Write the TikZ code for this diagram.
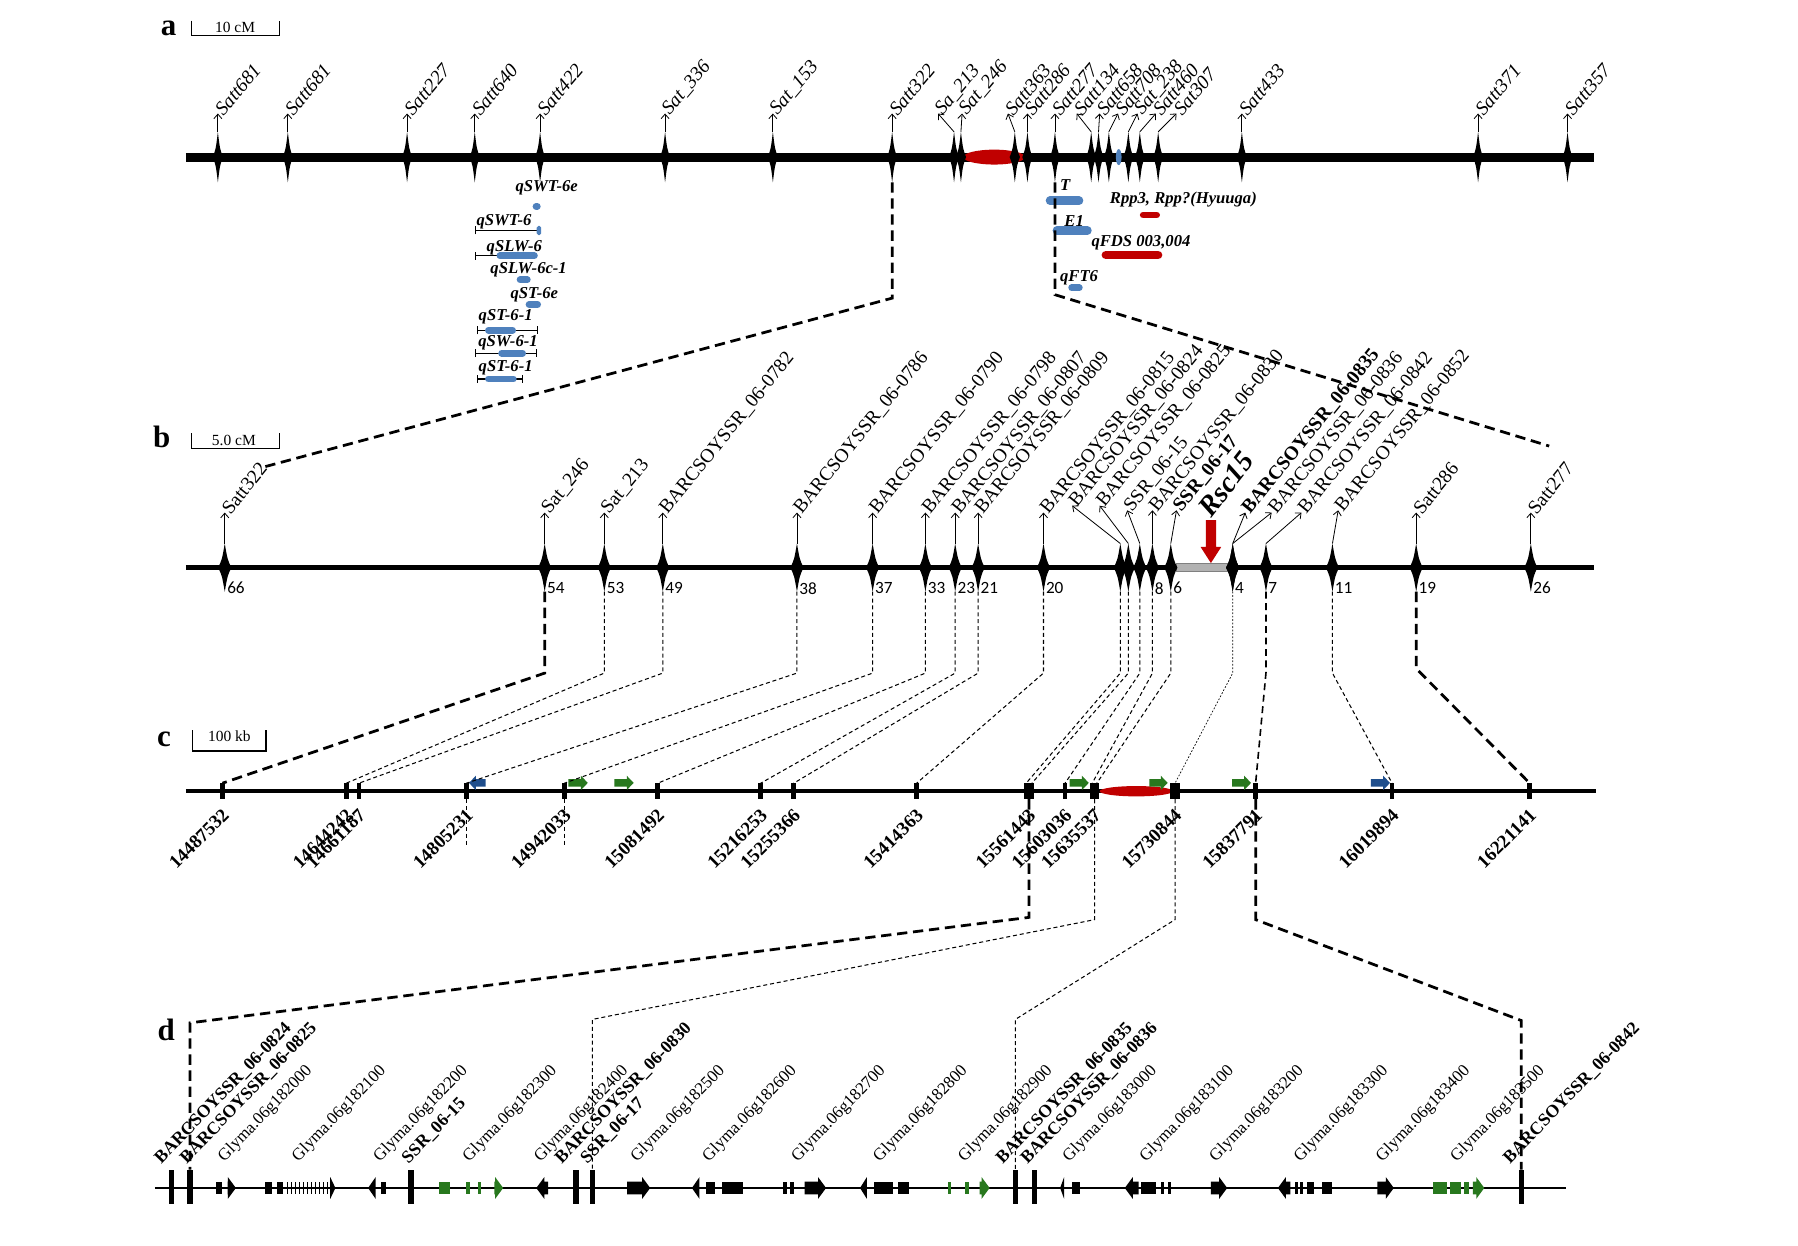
\documentclass[tikz,border=0pt]{standalone}
\usepackage{fontspec}
\setmainfont{Liberation Serif}
\newfontfamily\numfont{Carlito}
\usetikzlibrary{arrows.meta}
\definecolor{qblue}{RGB}{79,129,189}
\definecolor{qred}{RGB}{192,0,0}
\definecolor{ggreen}{RGB}{40,120,30}
\definecolor{gblue}{RGB}{31,78,140}

\begin{document}
\begin{tikzpicture}[x=1pt,y=-1pt]
  \tikzset{
    panel/.style={inner sep=0pt, font=\fontsize{27}{27}\selectfont\bfseries},
    barlbl/.style={inner sep=0pt, font=\fontsize{13.5}{13.5}\selectfont},
    albl/.style={anchor=west, rotate=50, inner sep=1pt, font=\fontsize{17}{17}\selectfont\itshape},
    blbl/.style={anchor=west, rotate=51, inner sep=1pt, font=\fontsize{17}{17}\selectfont},
    bnum/.style={anchor=west, inner sep=0pt, font=\numfont\fontsize{15}{15}\selectfont},
    clbl/.style={anchor=east, rotate=45, inner sep=0pt, font=\fontsize{16.5}{16.5}\selectfont\bfseries},
    dlbl/.style={anchor=south west, rotate=46, inner sep=0pt, font=\fontsize{14.8}{14.8}\selectfont},
    dmk/.style={dlbl, font=\fontsize{15.5}{15.5}\selectfont\bfseries},
    qlbl/.style={inner sep=0pt, font=\fontsize{14.5}{14.5}\selectfont\bfseries\itshape},
    mk/.style={-{Straight Barb[length=4pt,width=7pt]}, line width=0.7pt},
    qbar/.style={line width=6pt, line cap=round},
    ival/.style={line width=1pt, {Bar[width=7pt]}-{Bar[width=7pt]}},
    thickdash/.style={line width=2.4pt, dash pattern=on 9pt off 5pt},
    middash/.style={line width=1.4pt, dash pattern=on 6pt off 4pt},
    thindash/.style={line width=0.9pt, dash pattern=on 3.5pt off 2.5pt},
    dotdash/.style={line width=0.6pt, dash pattern=on 1.5pt off 1.5pt},
    spa/.pic={\fill (0,-22) .. controls (1.8,-7) .. (4.5,0) .. controls (1.8,7) .. (0,22) .. controls (-1.8,7) .. (-4.5,0) .. controls (-1.8,-7) .. cycle;},
    spb/.pic={\fill (0,-21) .. controls (2.4,-7) .. (5.8,0) .. controls (2.4,7) .. (0,21) .. controls (-2.4,7) .. (-5.8,0) .. controls (-2.4,-7) .. cycle;}
  }
  \useasboundingbox (0,0) rectangle (1568,1086);

  % panel a
  \node[panel] (pa) at (147,25) {a};
  \draw[line width=1.2pt] (167,18) -- (167,31) -- (244,31) -- (244,18);
  \node[barlbl] (sa) at (205,24) {10 cM};
  \draw[line width=8pt] (162,137) -- (1390,137);
  \fill[qred] (867,137) ellipse (27 and 6.5);
  \fill[qblue] (975.6,137) ellipse (2.5 and 7);
  \foreach \x/\t/\n [count=\i] in {190/190/Satt681, 251/251/Satt681, 355/355/Satt227,
      414/414/Satt640, 471/471/Satt422, 580/580/Sat\_336, 674/674/Sat\_153, 778/778/Satt322,
      832/818/Sa\_213, 838/839/Sat\_246, 885/879/Satt363, 896/896/Satt286, 920/920/Satt277,
      951.6/939/Satt134, 958/959/Satt658, 967/975/Satt708, 984/992/Sat\_238, 994/1008/Satt460,
      1010/1026/Sat307, 1083/1083/Satt433, 1289/1289/Satt371, 1367/1367/Satt357} {
    \coordinate (a\i) at (\x,137);
    \pic at (a\i) {spa};
    \node[albl] (al\i) at (\t,99) {\n};
    \draw[mk] ([yshift=22pt]a\i) -- (al\i.west);
  }

  % QTL on panel a
  \node[qlbl] (q1) at (476.7,164) {qSWT-6e};
  \draw[qbar, qblue] (467.5,180) -- (468.5,180);
  \node[qlbl] (q2) at (439.5,193) {qSWT-6};
  \draw[line width=1pt, {Bar[width=7pt]}-] (414,201) -- (469,201);
  \fill[qblue, rounded corners=1.5pt] (468,197) rectangle (472,205);
  \node[qlbl] (q3) at (448.5,216) {qSLW-6};
  \draw[line width=1pt, {Bar[width=7pt]}-] (414,223) -- (434,223);
  \draw[qbar, qblue] (436,223) -- (466,223);
  \node[qlbl] (q4) at (461,235.5) {qSLW-6c-1};
  \draw[qbar, qblue] (453.6,244) -- (459.8,244);
  \node[qlbl] (q5) at (466,257) {qST-6e};
  \draw[qbar, qblue] (461.4,265.5) -- (468.8,265.5);
  \node[qlbl] (q6) at (441,276) {qST-6-1};
  \draw[ival] (415.7,288) -- (469,288);
  \draw[qbar, qblue] (426,288) -- (447,288);
  \node[qlbl] (q7) at (443,299) {qSW-6-1};
  \draw[ival] (414,308) -- (468,308);
  \draw[qbar, qblue] (437.5,308) -- (455.7,308);
  \node[qlbl] (q8) at (441,321) {qST-6-1};
  \draw[ival] (415.7,330.5) -- (455.8,330.5);
  \draw[qbar, qblue] (426,330.5) -- (447.6,330.5);

  \node[qlbl] (q9) at (929,161.3) {T};
  \draw[qbar, qblue, line width=7.5pt] (915.7,175) -- (941,175);
  \node[qlbl] (q10) at (1032,174.4) {Rpp3, Rpp?(Hyuuga)};
  \draw[qbar, qred] (997,187.5) -- (1008.6,187.5);
  \node[qlbl] (q11) at (936.7,193) {E1};
  \draw[qbar, qblue, line width=7.5pt] (921.7,201) -- (948.3,201);
  \node[qlbl] (q12) at (995,212) {qFDS 003,004};
  \draw[qbar, qred, line width=7.5pt] (964.4,222.4) -- (1009.9,222.4);
  \node[qlbl] (q13) at (941,242.6) {qFT6};
  \draw[qbar, qblue] (934.6,251) -- (941.2,251);

  % a to b
  \coordinate (abL) at (231,407);
  \coordinate (abR) at (1351,389);
  \draw[thickdash] ([yshift=-22pt]a8) -- ([yshift=-123pt]a8) -- (abL);
  \draw[thickdash] ([yshift=-22pt]a13) -- ([yshift=-120pt]a13) -- (abR);

  % panel b
  \node[panel] (pb) at (141,381) {b};
  \draw[line width=1.2pt] (167,378) -- (167,391) -- (244,391) -- (244,378);
  \node[barlbl] (sb) at (204,384) {5.0 cM};
  \draw[line width=5pt] (162,495) -- (1390,495);
  \draw[fill=black!30, draw=black!50, line width=0.5pt] (1025.6,491.5) rectangle (1072,498.5);
  \foreach \x/\t/\h/\n [count=\i] in {196/196/447/Satt322, 475/475/447/Sat\_246,
      527/527/447/Sat\_213, 578/578/447/BARCSOYSSR\_06-0782, 695/695/447/BARCSOYSSR\_06-0786,
      761/761/447/BARCSOYSSR\_06-0790, 807/807/447/BARCSOYSSR\_06-0798,
      833/833/447/BARCSOYSSR\_06-0807, 853/853/447/BARCSOYSSR\_06-0809,
      910/910/447/BARCSOYSSR\_06-0815, 977/935/441/BARCSOYSSR\_06-0824,
      984/959/441/BARCSOYSSR\_06-0825, 994/983/445/SSR\_06-15,
      1005/1005/445/BARCSOYSSR\_06-0830, 1021/1026/445/\textbf{SSR\_06-17},
      1075/1086/447/\textbf{BARCSOYSSR\_06-0835}, 1075/1109/447/BARCSOYSSR\_06-0836,
      1104/1135/447/BARCSOYSSR\_06-0842, 1162/1167/445/BARCSOYSSR\_06-0852,
      1235/1235/447/Satt286, 1335/1335/447/Satt277} {
    \coordinate (b\i) at (\x,495);
    \pic at (b\i) {spb};
    \node[blbl] (bl\i) at (\t,\h) {\n};
    \draw[mk] ([yshift=21pt]b\i) -- (bl\i.west);
  }
  \foreach \i/\m in {1/66, 2/54, 3/53, 4/49, 5/38, 6/37, 7/33, 8/23, 9/21, 10/20,
      14/8, 15/6, 16/4, 18/7, 19/11, 20/19, 21/26}
    \node[bnum] (bn\i) at ([xshift=2pt,yshift=-18pt]b\i) {\m};
  \fill[qred] (1051.5,453.5) -- (1060.5,453.5) -- (1060.5,477) -- (1065,477) -- (1056,491)
    -- (1047,477) -- (1051.5,477) -- cycle;
  \node[anchor=west, rotate=52, inner sep=0pt, font=\fontsize{25}{25}\selectfont\bfseries\itshape]
    (rsc) at (1050,447) {Rsc15};

  % panel c
  \node[panel] (pc) at (143,645) {c};
  \draw[line width=1.2pt] (168,637) -- (168,655) -- (232,655) -- (232,637);
  \node[barlbl] (sc) at (200,642) {100 kb};
  \draw[line width=3pt] (162,690) -- (1392,690);
  \fill[qred] (991,690) ellipse (32 and 4.5);
  \foreach \x/\w/\n [count=\i] in {194/4/14487532, 302/4/14644242, 313/4/14661187,
      406.7/4/14805231, 492.2/4/14942033, 573.6/4/15081492, 663.4/4/15216253,
      692.2/4/15255366, 799.4/4/15414363, 897.4/8/15561443, 928.8/4/15603036,
      954.5/8/15635537, 1024.7/8/15730844, 1095/4/15837791, 1214/4/16019894,
      1334/4/16221141} {
    \coordinate (c\i) at (\x,690);
    \fill (\x-\w/2,683) rectangle (\x+\w/2,697);
    \node[clbl] (cl\i) at (\x+3,708) {\n};
  }
  \foreach \a/\b/\c in {495.7/512.6/ggreen, 535.7/552.6/ggreen, 932.8/949.5/ggreen,
      1002.4/1018.3/ggreen, 1074.4/1091/ggreen, 1195.4/1212.2/gblue}
    \fill[\c] (\a,679.5) -- (\b-6,679.5) -- (\b-6,676.5) -- (\b,682.75) -- (\b-6,689)
      -- (\b-6,686) -- (\a,686) -- cycle;
  \fill[gblue] (423.6,679.5) -- (415,679.5) -- (415,676.5) -- (409,682.75) -- (415,689)
    -- (415,686) -- (423.6,686) -- cycle;

  % b to c
  \foreach \p/\q/\s in {3/2/0, 4/3/0, 5/4/0, 6/5/0, 7/6/0, 8/7/0, 9/8/0, 10/9/0,
      11/10/-2.5, 12/10/2.5, 13/11/0, 14/12/-2, 15/12/2, 19/15/0}
    \draw[thindash] ([yshift=-21pt]b\p) -- ([yshift=-92pt]b\p) -- ([xshift=\s pt,yshift=7pt]c\q);
  \draw[thickdash] ([yshift=-21pt]b2) -- ([yshift=-92pt]b2) -- ([yshift=7pt]c1);
  \draw[thickdash] ([yshift=-21pt]b20) -- ([yshift=-88pt]b20) -- ([yshift=7pt]c16);
  \draw[dotdash] ([yshift=-21pt]b16) -- ([yshift=-92pt]b16) -- ([yshift=7pt]c13);
  \draw[middash] ([yshift=-21pt]b18) -- ([yshift=-92pt]b18) -- ([yshift=7pt]c14);
  \draw[thindash] ([yshift=-7pt]c4) -- ([yshift=-48pt]c4);
  \draw[thindash] ([yshift=-7pt]c5) -- ([yshift=-48pt]c5);

  % panel d
  \node[panel] (pd) at (145,898) {d};
  \draw[line width=2pt] (135,1036) -- (1366,1036);
  \foreach \x [count=\i] in {149.6,165.7,358.4,502.3,516.6,885.5,901.9,1326.7} {
    \coordinate (d\i) at (\x,1036);
    \fill (\x-2.3,1020) rectangle (\x+2.3,1050);
  }
  \foreach \x/\n [count=\i] in {144.3/BARCSOYSSR\_06-0824, 166.6/BARCSOYSSR\_06-0825,
      360/SSR\_06-15, 493.5/BARCSOYSSR\_06-0830, 515.7/SSR\_06-17,
      878.1/BARCSOYSSR\_06-0835, 899.8/BARCSOYSSR\_06-0836, 1320.4/BARCSOYSSR\_06-0842}
    \node[dmk] (dm\i) at (\x-2,1017) {\n};
  \foreach \x/\n [count=\i] in {200/182000, 264.4/182100, 335.6/182200, 413.5/182300,
      475.7/182400, 560/182500, 622.5/182600, 700/182700, 771.5/182800, 845.6/182900,
      936.7/183000, 1003.9/183100, 1064.6/183200, 1138.3/183300, 1209.8/183400, 1274.9/183500}
    \node[dlbl] (dg\i) at (\x-2,1016) {Glyma.06g\n};

  % genes
  \foreach \a/\b/\c in {188.8/193.3/black, 231/237/black, 241.3/246.6/black, 332/336.5/black,
      615.8/623.8/black, 630/648.3/black, 682.5/686/black, 689.2/692.8/black,
      762.6/779.1/black, 783.5/792.4/black, 934.5/941.9/black, 995.2/1008.2/black,
      1012.5/1015.5/black, 1018.5/1021/black, 1129.6/1131.6/black, 1134/1136/black,
      1139.6/1145.6/black, 1152.6/1161.3/black, 383.2/392.1/ggreen, 406.8/410.3/ggreen,
      417/419.7/ggreen, 827/829/ggreen, 841.3/844.7/ggreen, 1250.1/1261.8/ggreen,
      1264.9/1274/ggreen, 1277/1281.4/ggreen}
    \fill[\c] (\a,1030.5) rectangle (\b,1041.5);
  \foreach \x in {250,253.5,...,286}
    \fill (\x,1030.5) rectangle (\x+1.2,1041.5);
  \foreach \a/\b/\c in {198.6/205.7/black, 288/292.5/black, 546.9/567/black, 701.7/720.4/black,
      1055.9/1070.2/black, 1201.2/1215.5/black, 431.2/438.8/ggreen, 854.3/863/ggreen,
      1284.4/1294.4/ggreen} {
    \pgfmathsetmacro\hl{min(7,\b-\a)}
    \fill[\c] (\a,1030.5) -- (\b-\hl,1030.5) -- (\b-\hl,1026.5) -- (\b,1036) -- (\b-\hl,1045.5)
      -- (\b-\hl,1041.5) -- (\a,1041.5) -- cycle;
  }
  \foreach \a/\b in {321/327.6, 467.7/478, 603.4/610, 750/756, 924.5/928, 980.9/993, 1114.4/1125.3} {
    \pgfmathsetmacro\hl{min(7,\b-\a)}
    \fill (\b,1030.5) -- (\a+\hl,1030.5) -- (\a+\hl,1026.5) -- (\a,1036) -- (\a+\hl,1045.5)
      -- (\a+\hl,1041.5) -- (\b,1041.5) -- cycle;
  }

  % c to d
  \draw[thickdash] ([yshift=-7pt]c10) -- ([yshift=-110pt]c10) -- ([yshift=144pt]d2) -- ([yshift=16pt]d2);
  \draw[thindash] ([yshift=-7pt]c12) -- ([yshift=-112pt]c12) -- ([yshift=147pt]d5) -- ([yshift=16pt]d5);
  \draw[thindash] ([yshift=-7pt]c13) -- ([yshift=-112pt]c13) -- ([yshift=147pt]d6) -- ([yshift=16pt]d6);
  \draw[thickdash] ([yshift=-7pt]c14) -- ([yshift=-112pt]c14) -- ([yshift=146pt]d8) -- ([yshift=16pt]d8);
\end{tikzpicture}
\end{document}
